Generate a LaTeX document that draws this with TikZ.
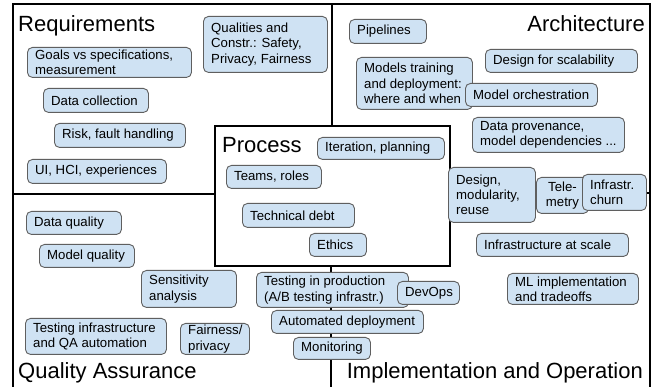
\documentclass[tikz,border=0pt]{standalone}
\usepackage{fontspec}
\setmainfont{Liberation Sans}
\definecolor{boxfill}{RGB}{207,226,243}
\definecolor{boxline}{RGB}{95,95,95}
\newcommand\qbox[6]{%
  \pgfmathsetmacro\qbw{#4-#2}\pgfmathsetmacro\qbh{#5-#3}%
  \node[box,minimum width=\qbw pt,minimum height=\qbh pt,anchor=north west] (#1) at (#2,#3) {};
  \node[boxtext,anchor=west] (#1t) at ([xshift=8pt]#1.west) {#6};}
\begin{document}
\begin{tikzpicture}[x=1pt,y=-1pt,
  box/.style={draw=boxline,fill=boxfill,line width=0.9pt,rounded corners=5pt,inner sep=0pt},
  boxtext/.style={inner sep=0pt,align=left,font=\fontsize{13.2}{15.3}\selectfont},
  frame/.style={draw=black,line width=2.3pt,line join=miter},
  title/.style={inner sep=0pt,font=\fontsize{22}{26}\selectfont}]
\useasboundingbox[fill=white] (0,0) rectangle (654,387);
% outer frame
\coordinate (fbl) at (13,390);
\coordinate (ftl) at (13,4);
\coordinate (ftr) at (650,4);
\coordinate (fbr) at (650,390);
\draw[frame] (fbl) -- (ftl) -- (ftr) -- (fbr);
% process box
\node[frame,fill=white,minimum width=235pt,minimum height=140pt,anchor=north west,inner sep=0pt] (proc) at (214,125) {};
\coordinate (tm) at (332,4);
\coordinate (bm) at (331,390);
\coordinate (lm) at (13,194);
\coordinate (rm) at (650,193);
\draw[frame] (tm) -- (tm |- proc.north);
\draw[frame] (bm) -- (bm |- proc.south);
\draw[frame] (lm) -- (lm -| proc.west);
\draw[frame] (rm) -- (rm -| proc.east);
% titles
\node[title,anchor=base west] (treq) at (18,31.5) {Requirements};
\node[title,anchor=base east] (tarch) at (645,32) {Architecture};
\node[title,anchor=base west] (tproc) at (222,153) {Process};
\node[title,anchor=base west] (tqa) at (18,379) {Quality Assurance};
\node[title,anchor=base east] (timpl) at (643,379) {Implementation and Operation};
% requirements
\qbox{qual}{203}{16}{327}{72}{Qualities and\\Constr.: Safety,\\Privacy, Fairness}
\qbox{goals}{27}{47}{191}{77}{Goals vs specifications,\\measurement}
\qbox{datac}{43}{88}{148}{112}{Data collection}
\qbox{risk}{54}{123}{185}{147}{Risk, fault handling}
\qbox{ui}{27}{159}{166}{183}{UI, HCI, experiences}
% process
\qbox{iter}{317}{137}{444}{159}{Iteration, planning}
\qbox{teams}{226}{165}{321}{188}{Teams, roles}
\qbox{techd}{242}{203}{354}{227}{Technical debt}
\qbox{ethics}{309}{233}{366}{256}{Ethics}
% architecture
\qbox{pipe}{349}{19}{426}{43}{Pipelines}
\qbox{scal}{485}{49}{637}{72}{Design for scalability}
\qbox{models}{356}{57}{472}{109}{Models training\\and deployment:\\where and when}
\qbox{orch}{465}{83}{597}{106}{Model orchestration}
\qbox{prov}{472}{117}{624}{152}{Data provenance,\\model dependencies ...}
\qbox{design}{448}{167}{535}{222}{Design,\\modularity,\\reuse}
\node[box,minimum width=52pt,minimum height=36pt,anchor=north west] (tele) at (536,177) {};
\node[boxtext,align=center] (telet) at (tele.center) {Tele-\\metry};
\qbox{infra}{582}{174}{646}{210}{Infrastr.\\churn}
% implementation
\qbox{scale}{476}{233}{628}{256}{Infrastructure at scale}
\qbox{mlimpl}{507}{273}{638}{304}{ML implementation\\and tradeoffs}
\qbox{tprod}{256}{272}{408}{307}{Testing in production\\(A/B testing infrastr.)}
\qbox{devops}{397}{281}{459}{304}{DevOps}
\qbox{autod}{271}{310}{423}{333}{Automated deployment}
\qbox{monit}{293}{337}{370}{359}{Monitoring}
% quality assurance
\qbox{dataq}{26}{211}{121}{234}{Data quality}
\qbox{modelq}{39}{244}{134}{267}{Model quality}
\qbox{sens}{141}{270}{236}{307}{Sensitivity\\analysis}
\qbox{tinfra}{25}{318}{166}{354}{Testing infrastructure\\and QA automation}
\qbox{fair}{180}{323}{249}{354}{Fairness/\\privacy}
\end{tikzpicture}
\end{document}
